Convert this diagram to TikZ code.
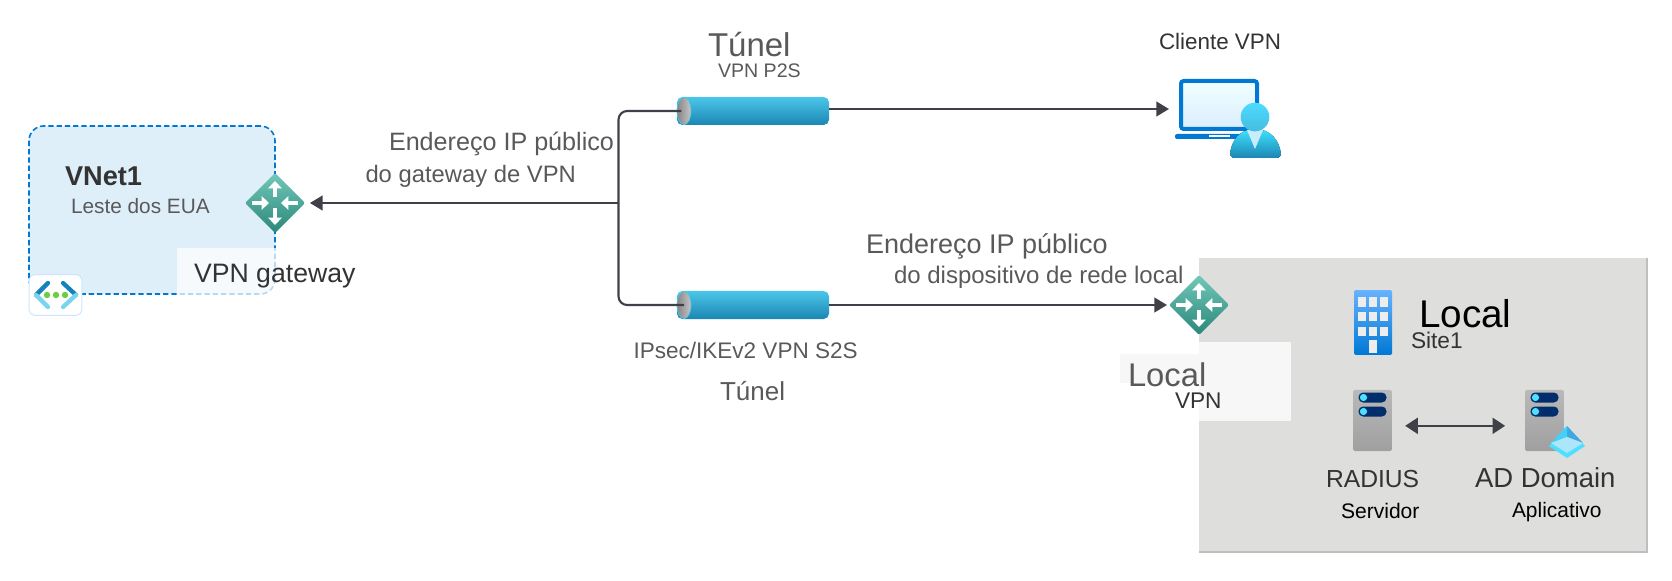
\documentclass[tikz,border=0pt]{standalone}
\usepackage{fontspec}
\setmainfont{Liberation Sans}
\usetikzlibrary{shapes.geometric,arrows.meta}

\definecolor{msblue}{HTML}{0078D4}
\definecolor{vnetfill}{HTML}{DFEFFA}
\definecolor{wirecol}{HTML}{404048}
\definecolor{labelgrey}{HTML}{595959}
\definecolor{darktext}{HTML}{333333}
\definecolor{sitefill}{HTML}{DEDEDD}
\definecolor{pillblue}{HTML}{002D6B}
\definecolor{dotblue}{HTML}{50E0FF}
\definecolor{gwtop}{HTML}{72C8B8}
\definecolor{gwbottom}{HTML}{2A877B}
\definecolor{tubetop}{HTML}{4CC6E8}
\definecolor{tubebottom}{HTML}{1B86B3}

\newcommand{\sz}[1]{\fontsize{#1pt}{#1pt}\selectfont}

\begin{document}
\begin{tikzpicture}[
    x=0.75pt, y=-0.75pt,
    lbl/.style={anchor=base west, inner sep=0pt, outer sep=0pt, text=labelgrey},
    lbldark/.style={lbl, text=darktext},
    lblblack/.style={lbl, text=black},
    wire/.style={draw=wirecol, line width=1.6pt},
    arrow/.style={wire, -{Triangle[length=9.5pt,width=11pt]}},
    bothway/.style={wire, {Triangle[length=9.5pt,width=12pt]}-{Triangle[length=9.5pt,width=12pt]}},
    gateway/.style={diamond, aspect=1, inner sep=0pt, outer sep=0pt, minimum size=45pt, rounded corners=1.5pt, top color=gwtop, bottom color=gwbottom},
    tunnel/.style={rectangle, inner sep=0pt, outer sep=0pt, minimum width=114pt, minimum height=21pt, rounded corners=4pt, top color=tubetop, bottom color=tubebottom},
    tunnelend/.style={ellipse, inner sep=0pt, outer sep=0pt, minimum width=10.5pt, minimum height=20.5pt, draw=tubetop, line width=0.5pt, left color=gray!95, right color=gray!45},
    server/.style={rectangle, inner sep=0pt, outer sep=0pt, minimum width=29pt, minimum height=46pt, rounded corners=1.2pt, top color=gray!55, bottom color=gray!75},
    arrowwhite/.style={draw=white, line width=3.6pt, -{Triangle[length=5.5pt,width=10pt]}},
    gwarrows/.pic={
      \draw[arrowwhite] (0,-6) -- (0,-22);
      \draw[arrowwhite] (0,5) -- (0,22);
      \draw[arrowwhite] (-23,0) -- (-6,0);
      \draw[arrowwhite] (23,0) -- (6,0);
    },
    srvpills/.pic={
      \foreach \y in {-23,-9} {
        \fill[pillblue, rounded corners=3.5pt] (-14,\y-5) rectangle (14,\y+5);
        \fill[dotblue] (-9,\y) circle (3.6);
      }
    }
]

% Areas
\useasboundingbox (0,0) rectangle (1672,581);
\node[rectangle, rounded corners=11pt, draw=msblue, fill=vnetfill, line width=1.2pt, dash pattern=on 4pt off 2.2pt, inner sep=0pt, outer sep=0pt, minimum width=184.5pt, minimum height=126pt] (vnetbox) at (152,210) {};
\fill[white, opacity=.72] (177,248) rectangle (277,296);
\node[rectangle, fill=sitefill, inner sep=0pt, outer sep=0pt, minimum width=336pt, minimum height=220.5pt] (sitebox) at (1423,405) {};
\draw[gray!50, line width=1.2pt] (sitebox.north east) -- (sitebox.south east) -- (sitebox.south west);
\fill[white!97!black] (1120,354) rectangle (1199,383);
\fill[white!97!black] (1199,342) rectangle (1291,421);

% VNet icon
\node[rectangle, rounded corners=4pt, draw=blue!50!cyan!20, fill=white, line width=0.7pt, inner sep=0pt, minimum width=39.5pt, minimum height=30.5pt] (vneticon) at (55.5,295) {};
\draw[tubebottom!70!msblue, line width=3.2pt, line cap=round] (48,283) -- (36,295) (63,283) -- (76,295);
\draw[tubetop!75!white, line width=3.2pt, line cap=round] (36,295) -- (48,307) (76,295) -- (63,307);
\foreach \x in {47,56,65} \fill[green!55!brown!85] (\x,295) circle (3.2);

% Nodes
\node[gateway] (vpngw) at (275,203) {};
\pic at (vpngw.center) {gwarrows};
\node[gateway] (localgw) at (1199,305) {};
\pic at (localgw.center) {gwarrows};
\coordinate (junc) at (618.5,203);
\node[tunnel] (p2stunnel) at (753,111) {};
\node[tunnelend] (p2send) at (684,111) {};
\node[tunnel] (s2stunnel) at (753,305) {};
\node[tunnelend] (s2send) at (684,305) {};

% Laptop and user
\node[rectangle, rounded corners=2pt, draw=msblue, line width=3pt, top color=cyan!6, bottom color=blue!50!cyan!14, inner sep=0pt, minimum width=57pt, minimum height=36pt] (laptop) at (1219,105) {};
\fill[msblue, rounded corners=1.5pt] (1175,134) rectangle (1245,139);
\fill[white] (1209,135.5) rectangle (1230,137.5);
\fill[top color=cyan!85!blue!75, bottom color=tubebottom] (1230,155) .. controls (1231,140) and (1240,129) .. (1255,129) .. controls (1270,129) and (1280,140) .. (1281,155) -- (1278,158) -- (1233,158) -- cycle;
\fill[cyan!22] (1247,130) -- (1263,130) -- (1255,149) -- cycle;
\node[circle, inner sep=0pt, minimum size=21.5pt, top color=cyan!80!blue!70, bottom color=tubetop!85!tubebottom] (user) at (1255,117) {};

% Building
\node[rectangle, rounded corners=1pt, inner sep=0pt, outer sep=0pt, minimum width=28.5pt, minimum height=48.5pt, top color=blue!50!cyan!60, bottom color=msblue] (building) at (1373,322.5) {};
\foreach \x in {1362,1373,1384} \foreach \y in {302,316,331}
  \fill[white!93!black] (\x-4,\y-4.5) rectangle (\x+4,\y+4.5);
\fill[white!93!black] (1369,340) rectangle (1377,353);

% Servers
\node[server] (radiussrv) at (1372.5,420.5) {};
\pic at (radiussrv.center) {srvpills};
\node[server] (adsrv) at (1544.5,420.5) {};
\pic at (adsrv.center) {srvpills};
\fill[dotblue] (1549,446) -- (1567,426) -- (1585,446) -- (1567,458) -- cycle;
\fill[tubetop!40!msblue!85!white] (1567,426) -- (1583,443) -- (1567,437) -- cycle;
\fill[dotblue!85!msblue] (1567,426) -- (1551,443) -- (1567,437) -- cycle;
\fill[cyan!32] (1551,443) -- (1567,437) -- (1583,443) -- (1567,453) -- cycle;

% Lines
\draw[wire, rounded corners=6.5pt, shorten <=2pt] (p2send.center) -| (junc) |- (s2send.center);
\draw[arrow, shorten >=3.7pt] (junc) -- (vpngw.east);
\draw[arrow, shorten >=7.5pt] ([yshift=1.5pt]p2stunnel.east) -- ([yshift=-3pt]laptop.west);
\draw[arrow, shorten >=1.5pt] (s2stunnel.east) -- (localgw.west);
\draw[bothway, shorten <=10pt, shorten >=15pt] ([yshift=-4pt]radiussrv.east) -- ([yshift=-4pt]adsrv.west);

% Labels
\node[lbldark, font={\bfseries\sz{20.4}}] (vnetname) at (65,186) {VNet1};
\node[lbl, font=\sz{15.6}] (vnetregion) at (71,214) {Leste dos EUA};
\node[lbldark, font=\sz{20}] (vpngwname) at (194,282) {VPN gateway};
\node[lbl, font=\sz{24.75}] (p2stitle) at (708,57) {Túnel};
\node[lbl, font=\sz{14.7}] (p2sname) at (718,78) {VPN P2S};
\node[lbldark, font=\sz{16.8}] (clientname) at (1159,50) {Cliente VPN};
\node[lbl, font=\sz{18.85}] (gwaddr) at (389,151) {Endereço IP público};
\node[lbl, font=\sz{17.85}] (gwaddrb) at (365.5,183) {do gateway de VPN};
\node[lbl, font=\sz{20.25}] (localaddr) at (866,254) {Endereço IP público};
\node[lbl, font=\sz{18}] (localaddrb) at (894,284) {do dispositivo de rede local};
\node[lbl, font=\sz{16.9}] (s2sname) at (633.5,358) {IPsec/IKEv2 VPN S2S};
\node[lbl, font=\sz{19.5}] (s2stitle) at (720,400) {Túnel};
\node[lbl, font=\sz{24.6}] (localgwname) at (1128,386) {Local};
\node[lbldark, font=\sz{17}] (localgwvpn) at (1175,408) {VPN};
\node[lblblack, font=\sz{29}] (sitename) at (1419,327) {Local};
\node[lbldark, font=\sz{17}] (sitenum) at (1411,349) {Site1};
\node[lbldark, font=\sz{18.5}] (radiusname) at (1326,487) {RADIUS};
\node[lblblack, font=\sz{15.8}] (radiusrole) at (1341,518) {Servidor};
\node[lbldark, font=\sz{20.6}] (adname) at (1475,487) {AD Domain};
\node[lblblack, font=\sz{15.7}] (adrole) at (1512,517) {Aplicativo};

\end{tikzpicture}
\end{document}
